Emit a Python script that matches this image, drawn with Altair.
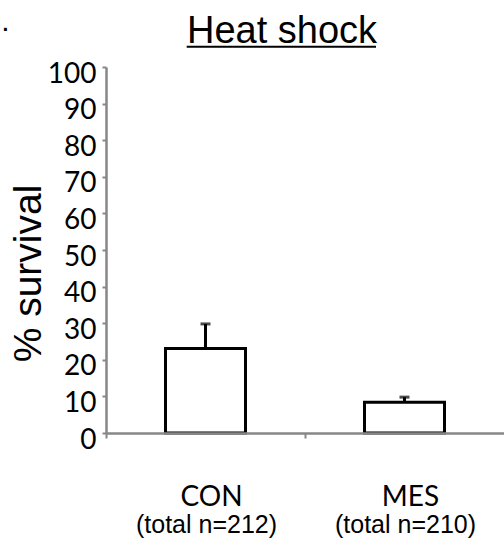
import altair as alt
import pandas as pd

# ---- data ----
categories = ["CON", "MES"]
survival = [23.1, 8.4]          # % survival (bar height)
error_up = [6.7, 1.4]           # upper error bar length
n_total = [212, 210]
y_ticks = [0, 10, 20, 30, 40, 50, 60, 70, 80, 90, 100]
title_text = "Heat shock"
panel_label = "B."
y_title = "% survival"

df = pd.DataFrame({
    "group": categories,
    "survival": survival,
    "upper": [s + e for s, e in zip(survival, error_up)],
    "sub": [f"(total n={n})" for n in n_total],
})
one = pd.DataFrame({"t": [title_text], "p": [panel_label]})

GRAY = "#878787"

x_scale = alt.Scale(domain=categories, paddingInner=0, paddingOuter=0)
y_scale = alt.Scale(domain=[0, 100], nice=False)

x_axis = alt.Axis(labels=False, title=None, ticks=True, tickSize=5,
                  tickColor=GRAY, tickWidth=2, bandPosition=0,
                  domainColor=GRAY, domainWidth=2.5, grid=False, zindex=1)
y_axis = alt.Axis(values=y_ticks, tickSize=4, tickColor=GRAY, tickWidth=2,
                  domainColor=GRAY, domainWidth=2.5, grid=False,
                  labelFont="Lato", labelFontSize=28, labelColor="black",
                  labelPadding=6, labelOverlap=False, labelOffset=7,
                  labelFlush=False,
                  title=y_title, titleFont="Liberation Sans",
                  titleFontSize=39, titleFontWeight="normal",
                  titleColor="black", titleAngle=270,
                  titleX=-66, titleY=206, titleAlign="center",
                  titleBaseline="alphabetic", zindex=1)


def X():
    return alt.X("group:N", scale=x_scale, sort=categories, axis=x_axis)


def Y(field):
    return alt.Y(field, scale=y_scale, axis=y_axis, title=y_title)


base = alt.Chart(df)

bars = base.mark_bar(size=80, fill="white", stroke="black", strokeWidth=3).encode(
    x=X(), y=Y("survival:Q"))

err = base.mark_rule(color="black", strokeWidth=3).encode(
    x=X(), y=Y("survival:Q"), y2="upper:Q")

cap = base.mark_tick(color="black", size=10, thickness=3, orient="horizontal").encode(
    x=X(), y=Y("upper:Q"))

cat_lab = base.mark_text(font="Lato", fontSize=28, color="black",
                         baseline="alphabetic", align="center", dx=6).encode(
    x=X(), y=alt.value(438.7), text="group:N")

sub_lab = base.mark_text(font="Liberation Sans", fontSize=25, color="black",
                         baseline="alphabetic", align="center", dx=1).encode(
    x=X(), y=alt.value(465.5), text="sub:N")

title = alt.Chart(one).mark_text(font="Liberation Sans", fontSize=38, color="black",
                                 baseline="alphabetic", align="center").encode(
    x=alt.value(176), y=alt.value(-24), text="t:N")

underline = alt.Chart(one).mark_rule(color="black", strokeWidth=2).encode(
    x=alt.value(80.7), x2=alt.value(270), y=alt.value(-20.3))

plabel = alt.Chart(one).mark_text(font="Liberation Sans", fontSize=30, color="black",
                                  baseline="alphabetic", align="right").encode(
    x=alt.value(-96.5), y=alt.value(-36), text="p:N")

chart = alt.layer(bars, err, cap, cat_lab, sub_lab, title, underline, plabel).properties(
    width=398, height=366,
    autosize=alt.AutoSizeParams(type="none"),
    padding={"left": 106, "top": 67, "right": 0, "bottom": 121},
    background="white",
).configure_view(stroke=None)

chart.save("out.html", embed_options={"renderer": "svg", "actions": False})
